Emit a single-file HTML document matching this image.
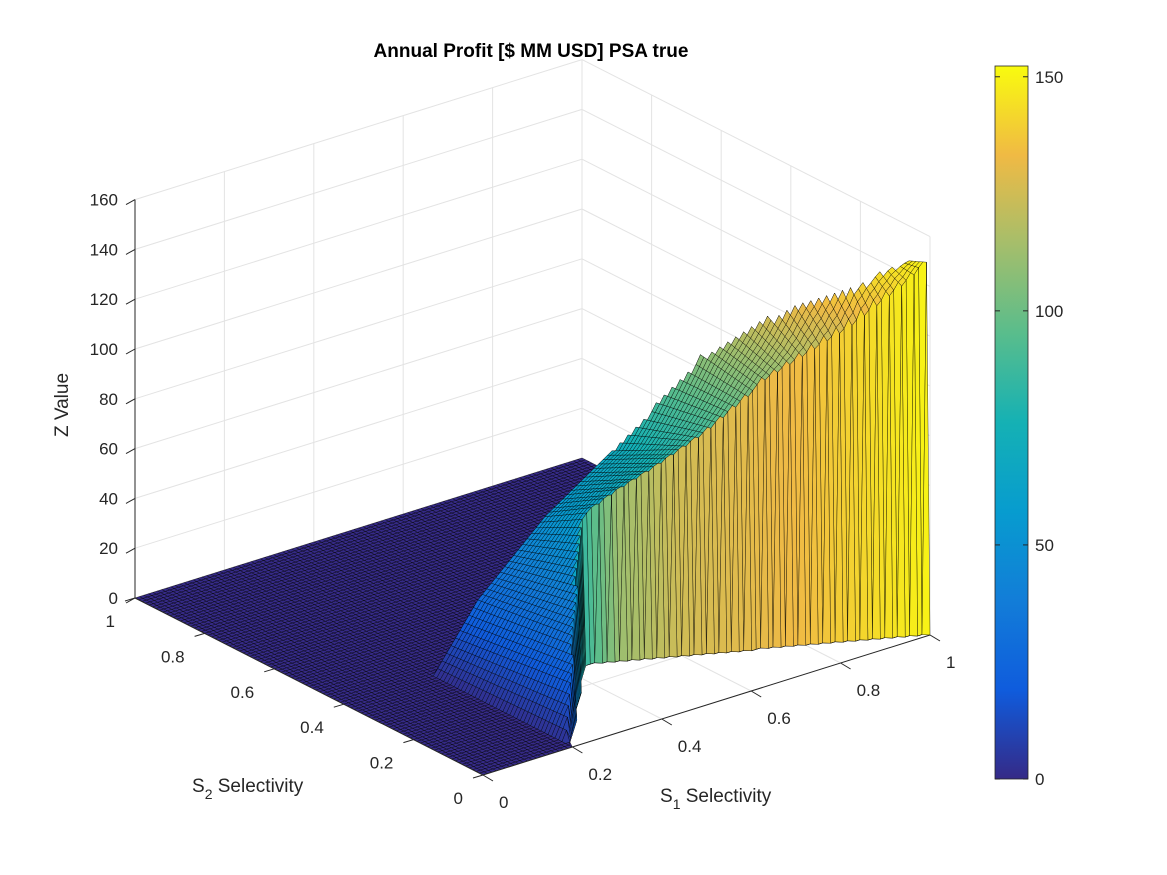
<!DOCTYPE html>
<html><head><meta charset="utf-8"><style>
html,body{margin:0;padding:0;background:#fff;}
svg{display:block;font-family:"Liberation Sans",Arial,sans-serif;}
</style></head><body>
<svg id="chart" width="1167" height="875" viewBox="0 0 1167 875" xmlns="http://www.w3.org/2000/svg">
<defs>
<linearGradient id="parula" x1="0" y1="1" x2="0" y2="0">
<stop offset="0" stop-color="rgb(53,42,135)"/>
<stop offset="0.125" stop-color="rgb(15,92,221)"/>
<stop offset="0.25" stop-color="rgb(18,125,216)"/>
<stop offset="0.375" stop-color="rgb(7,156,207)"/>
<stop offset="0.5" stop-color="rgb(21,177,180)"/>
<stop offset="0.625" stop-color="rgb(89,189,140)"/>
<stop offset="0.75" stop-color="rgb(165,190,107)"/>
<stop offset="0.875" stop-color="rgb(240,186,68)"/>
<stop offset="1" stop-color="rgb(249,251,14)"/>
</linearGradient>
</defs>
<g id="grid"></g>
<g id="surf"></g>
<g id="axes"></g>
<text x="531" y="57" text-anchor="middle" font-size="19" font-weight="bold">Annual Profit [$ MM USD] PSA true</text>
<text x="0" y="0" transform="translate(68,405) rotate(-90)" text-anchor="middle" font-size="19" fill="#262626">Z Value</text>
<text x="192" y="792" font-size="19" fill="#262626">S<tspan font-size="14" dy="7">2</tspan><tspan dy="-7"> Selectivity</tspan></text>
<text x="660" y="802" font-size="19" fill="#262626">S<tspan font-size="14" dy="7">1</tspan><tspan dy="-7"> Selectivity</tspan></text>
<g>
<rect x="995" y="66" width="33" height="713" fill="url(#parula)" stroke="#262626" stroke-width="0.8"/>
<g id="cbticks"></g>
</g>
</svg>
<script>
// ---- data ----
const zTicks=[0,20,40,60,80,100,120,140,160];
const s1Ticks=[0,0.2,0.4,0.6,0.8,1];
const s2Ticks=[0,0.2,0.4,0.6,0.8,1];
const cbTicks=[0,50,100,150];
// profit just behind the feasibility edge, by S1
const profS1=[0,0.2,0.22,0.25,0.3,0.35,0.4,0.45,0.5,0.56,0.64,0.74,0.88,0.97,1];
const profZ=[0,0,8,18,30,40,50,60,68,76,88,107,126,142,149];
// profit at the back of the profitable region, by S1
const backZS1=[0,0.2,0.3,0.45,0.6,0.72,0.83,0.96,1];
const backZ=[0,0,25,50,68,107,131,144,146];
// colour value of the steep edge faces, by S1
const curtainS1=[0,0.2,0.3,0.44,0.5,0.6,0.8,0.95,1];
const curtainC=[0,0,40,85,112,125,134,146,150];
// feasibility edge (first valid S2) by S1
const edgeS1=[0,0.2,0.44,1];
const edgeS2=[0,0,0.27,0];
// back extent of the profitable region by S1
const backS1=[0,0.2,0.6,0.72,0.9,1];
const backS2=[0.4,0.4,0.4,0.3,0.1,0.06];
const N=100;
const cMax=152.3;

const NS='http://www.w3.org/2000/svg';
function P(s1,s2,z){return [483+447*s1-348*s2, 775-140*s1-177*s2-2.49*z];}
function interp(xs,ys,x){
  if(x<=xs[0])return ys[0];
  for(let k=1;k<xs.length;k++){if(x<=xs[k]){const t=(x-xs[k-1])/(xs[k]-xs[k-1]);return ys[k-1]+t*(ys[k]-ys[k-1]);}}
  return ys[ys.length-1];
}
function J0(i){const s1=i/N;if(s1<0.2-1e-9)return 0;return Math.ceil(interp(edgeS1,edgeS2,s1)*N-1e-6);}
function V(i,j){
  const s1=i/N;
  if(s1<0.2-1e-9)return [s1,j/N,0];
  const j0=J0(i);
  if(j<=j0)return [s1,j0/N,0];
  const back=Math.max(interp(backS1,backS2,s1)*N,j0+1);
  if(j>back)return [s1,j/N,0];
  const f=interp(profS1,profZ,s1),b=interp(backZS1,backZ,s1);
  const t=back>j0+1?(j-j0-1)/(back-j0-1):0;
  return [s1,j/N,f+(b-f)*Math.max(0,Math.min(1,t))];
}
const stops=[[53,42,135],[15,92,221],[18,125,216],[7,156,207],[21,177,180],[89,189,140],[165,190,107],[240,186,68],[249,251,14]];
function parula(v){
  let t=Math.max(0,Math.min(1,v/cMax))*(stops.length-1);
  const k=Math.min(stops.length-2,Math.floor(t)),f=t-k;
  const a=stops[k],b=stops[k+1];
  return 'rgb('+a.map((c,m)=>Math.round(c+f*(b[m]-c))).join(',')+')';
}
function line(g,a,b,col,w,name){
  const l=document.createElementNS(NS,'line');
  l.setAttribute('x1',a[0]);l.setAttribute('y1',a[1]);l.setAttribute('x2',b[0]);l.setAttribute('y2',b[1]);
  l.setAttribute('stroke',col);l.setAttribute('stroke-width',w);
  
  
  g.appendChild(l);
}
function txt(g,x,y,s,anchor,name){
  const t=document.createElementNS(NS,'text');
  t.setAttribute('x',x);t.setAttribute('y',y);t.setAttribute('text-anchor',anchor);
  t.setAttribute('font-size','17');t.setAttribute('fill','#262626');
  t.textContent=s;
  
  
  g.appendChild(t);
}
// grid
const grid=document.getElementById('grid');
const gc='#e3e3e3';
zTicks.forEach(z=>{line(grid,P(0,1,z),P(1,1,z),gc,1,'z-gridline');line(grid,P(1,1,z),P(1,0,z),gc,1,'z-gridline');});
s1Ticks.forEach(s=>{line(grid,P(s,1,0),P(s,1,160),gc,1,'s1-gridline');line(grid,P(s,0,0),P(s,1,0),gc,1,'s1-gridline');});
s2Ticks.forEach(s=>{line(grid,P(1,s,0),P(1,s,160),gc,1,'s2-gridline');line(grid,P(0,s,0),P(1,s,0),gc,1,'s2-gridline');});
// surface
const quads=[];
for(let i=0;i<N;i++)for(let j=0;j<N;j++){
  const jm=Math.max(J0(i),J0(i+1));
  if(j+1<Math.min(J0(i),J0(i+1)))continue;
  const vs=[V(i,j),V(i+1,j),V(i+1,j+1),V(i,j+1)];
  const d=0.614*(i+0.5)/N+0.789*(Math.max(j,jm-1)+0.5)/N;
  const zs=vs.map(v=>v[2]);
  let cz=Math.max(...zs);
  if(i/N>=0.2 && Math.min(...zs)===0 && cz>0 && j<=jm)cz=Math.max(cz,interp(curtainS1,curtainC,(i+0.5)/N));
  quads.push({vs,d,cz});
}
quads.sort((a,b)=>b.d-a.d);
const surf=document.getElementById('surf');
let html='';
quads.forEach(q=>{
  const pts=q.vs.map(v=>P(v[0],v[1],v[2]));
  html+='<path d="M'+pts.map(p=>p[0].toFixed(1)+','+p[1].toFixed(1)).join('L')+'Z" fill="'+parula(q.cz)+'" stroke="#000" stroke-width="0.45" stroke-opacity="0.85"/>';
});
surf.innerHTML=html;
// axes
const ax=document.getElementById('axes');
const ac='#262626';
line(ax,P(0,1,0),P(0,1,160),ac,1,'z-axis-line');
line(ax,P(0,1,0),P(0,0,0),ac,1,'s2-axis-line');
line(ax,P(0,0,0),P(1,0,0),ac,1,'s1-axis-line');
zTicks.forEach(z=>{const p=P(0,1,z);line(ax,p,[p[0]-9,p[1]+5],ac,1,'z-tick');txt(ax,p[0]-17,p[1]+6,String(z),'end','z-tick-label');});
s2Ticks.forEach(s=>{const p=P(0,s,0);line(ax,p,[p[0]-10,p[1]+3],ac,1,'s2-tick');txt(ax,p[0]-20,p[1]+29,String(s),'end','s2-tick-label');});
s1Ticks.forEach(s=>{const p=P(s,0,0);line(ax,p,[p[0]+10,p[1]+6],ac,1,'s1-tick');txt(ax,p[0]+16,p[1]+33,String(s),'start','s1-tick-label');});
// colorbar ticks
const cb=document.getElementById('cbticks');
cbTicks.forEach(v=>{const y=779-v*(713/cMax);line(cb,[995,y],[1000,y],ac,1,'colorbar-tick');line(cb,[1023,y],[1028,y],ac,1,'colorbar-tick');txt(cb,1035,y+6,String(v),'start','colorbar-tick-label');});
</script>
</body></html>
